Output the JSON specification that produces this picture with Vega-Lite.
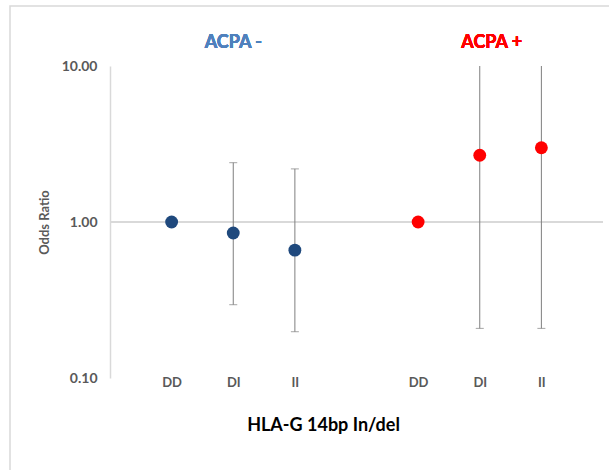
{
  "$schema": "https://vega.github.io/schema/vega-lite/v6.json",
  "width": 620,
  "height": 480,
  "autosize": {"type": "none"},
  "padding": {"left": 10, "top": 6, "right": 0, "bottom": 0},
  "background": "white",
  "config": {"view": {"stroke": "#d9d9d9", "strokeWidth": 1.5}, "font": "Lato"},
  "data": {
    "values": [
      {"group": "ACPA -", "slot": "ACPA - DD", "genotype": "DD", "or": 1.0},
      {"group": "ACPA -", "slot": "ACPA - DI", "genotype": "DI", "or": 0.85, "lo": 0.295, "hi": 2.40},
      {"group": "ACPA -", "slot": "ACPA - II", "genotype": "II", "or": 0.66, "lo": 0.198, "hi": 2.19},
      {"group": "ACPA +", "slot": "ACPA + DD", "genotype": "DD", "or": 1.0},
      {"group": "ACPA +", "slot": "ACPA + DI", "genotype": "DI", "or": 2.68, "lo": 0.208, "hi": 10},
      {"group": "ACPA +", "slot": "ACPA + II", "genotype": "II", "or": 2.99, "lo": 0.208, "hi": 10}
    ]
  },
  "encoding": {
    "x": {
      "field": "slot",
      "type": "nominal",
      "scale": {
        "type": "point",
        "domain": ["gap0", "ACPA - DD", "ACPA - DI", "ACPA - II", "gap4", "ACPA + DD", "ACPA + DI", "ACPA + II", "gap8"],
        "range": [100, 593],
        "padding": 0
      },
      "axis": {
        "orient": "bottom",
        "offset": -113,
        "values": ["ACPA - DD", "ACPA - DI", "ACPA - II", "ACPA + DD", "ACPA + DI", "ACPA + II"],
        "labelExpr": "split(datum.label, ' ')[2]",
        "labelAngle": 0,
        "domain": false,
        "ticks": false,
        "grid": false,
        "labelPadding": 3,
        "labelFont": "Lato",
        "labelFontSize": 13,
        "labelFontWeight": "bold",
        "labelColor": "#595959",
        "title": "HLA-G 14bp In/del",
        "titleFont": "Lato",
        "titleFontSize": 18,
        "titleFontWeight": "bold",
        "titleColor": "#000000",
        "titleX": 313,
        "titleY": 52,
        "titleBaseline": "middle",
        "titleAlign": "center"
      }
    }
  },
  "layer": [
    {
      "mark": {"type": "rule", "color": "#d9d9d9", "strokeWidth": 1.5},
      "encoding": {
        "x": {"datum": "gap0"},
        "x2": {"datum": "gap8"},
        "y": {"datum": 1}
      }
    },
    {
      "transform": [{"filter": "isValid(datum.lo)"}],
      "mark": {"type": "rule", "color": "#7f7f7f", "strokeWidth": 1},
      "encoding": {
        "y": {
          "field": "lo",
          "type": "quantitative",
          "scale": {"type": "log", "domain": [0.1, 10], "range": [372, 60]},
          "axis": {
            "orient": "left",
            "offset": -100,
            "values": [0.1, 1, 10],
            "format": ".2f",
            "domainColor": "#d9d9d9",
            "domainWidth": 1.5,
            "ticks": false,
            "grid": false,
            "labelPadding": 13,
            "labelFont": "Lato",
            "labelFontSize": 14,
            "labelFontWeight": "bold",
            "labelColor": "#595959",
            "title": "Odds Ratio",
            "titleFont": "Lato",
            "titleFontSize": 13,
            "titleFontWeight": "bold",
            "titleColor": "#595959",
            "titlePadding": 10
          }
        },
        "y2": {"field": "hi"}
      }
    },
    {
      "transform": [{"filter": "isValid(datum.lo)"}],
      "mark": {"type": "tick", "color": "#7f7f7f", "size": 8, "thickness": 1},
      "encoding": {"y": {"field": "lo", "type": "quantitative"}}
    },
    {
      "transform": [{"filter": "isValid(datum.hi) && datum.hi < 10"}],
      "mark": {"type": "tick", "color": "#7f7f7f", "size": 8, "thickness": 1},
      "encoding": {"y": {"field": "hi", "type": "quantitative"}}
    },
    {
      "mark": {"type": "circle", "size": 165, "opacity": 1},
      "encoding": {
        "y": {"field": "or", "type": "quantitative"},
        "color": {
          "field": "group",
          "type": "nominal",
          "scale": {"domain": ["ACPA -", "ACPA +"], "range": ["#1f497d", "#ff0000"]},
          "legend": null
        }
      }
    },
    {
      "mark": {"type": "text", "text": "ACPA -", "font": "Lato", "fontSize": 18, "fontWeight": "bold", "color": "#4f81bd", "align": "center", "baseline": "middle"},
      "encoding": {"x": {"datum": "ACPA - DI"}, "y": {"datum": 14}}
    },
    {
      "mark": {"type": "text", "text": "ACPA +", "font": "Lato", "fontSize": 18, "fontWeight": "bold", "color": "#ff0000", "align": "center", "baseline": "middle", "dx": 12},
      "encoding": {"x": {"datum": "ACPA + DI"}, "y": {"datum": 14}}
    }
  ]
}
